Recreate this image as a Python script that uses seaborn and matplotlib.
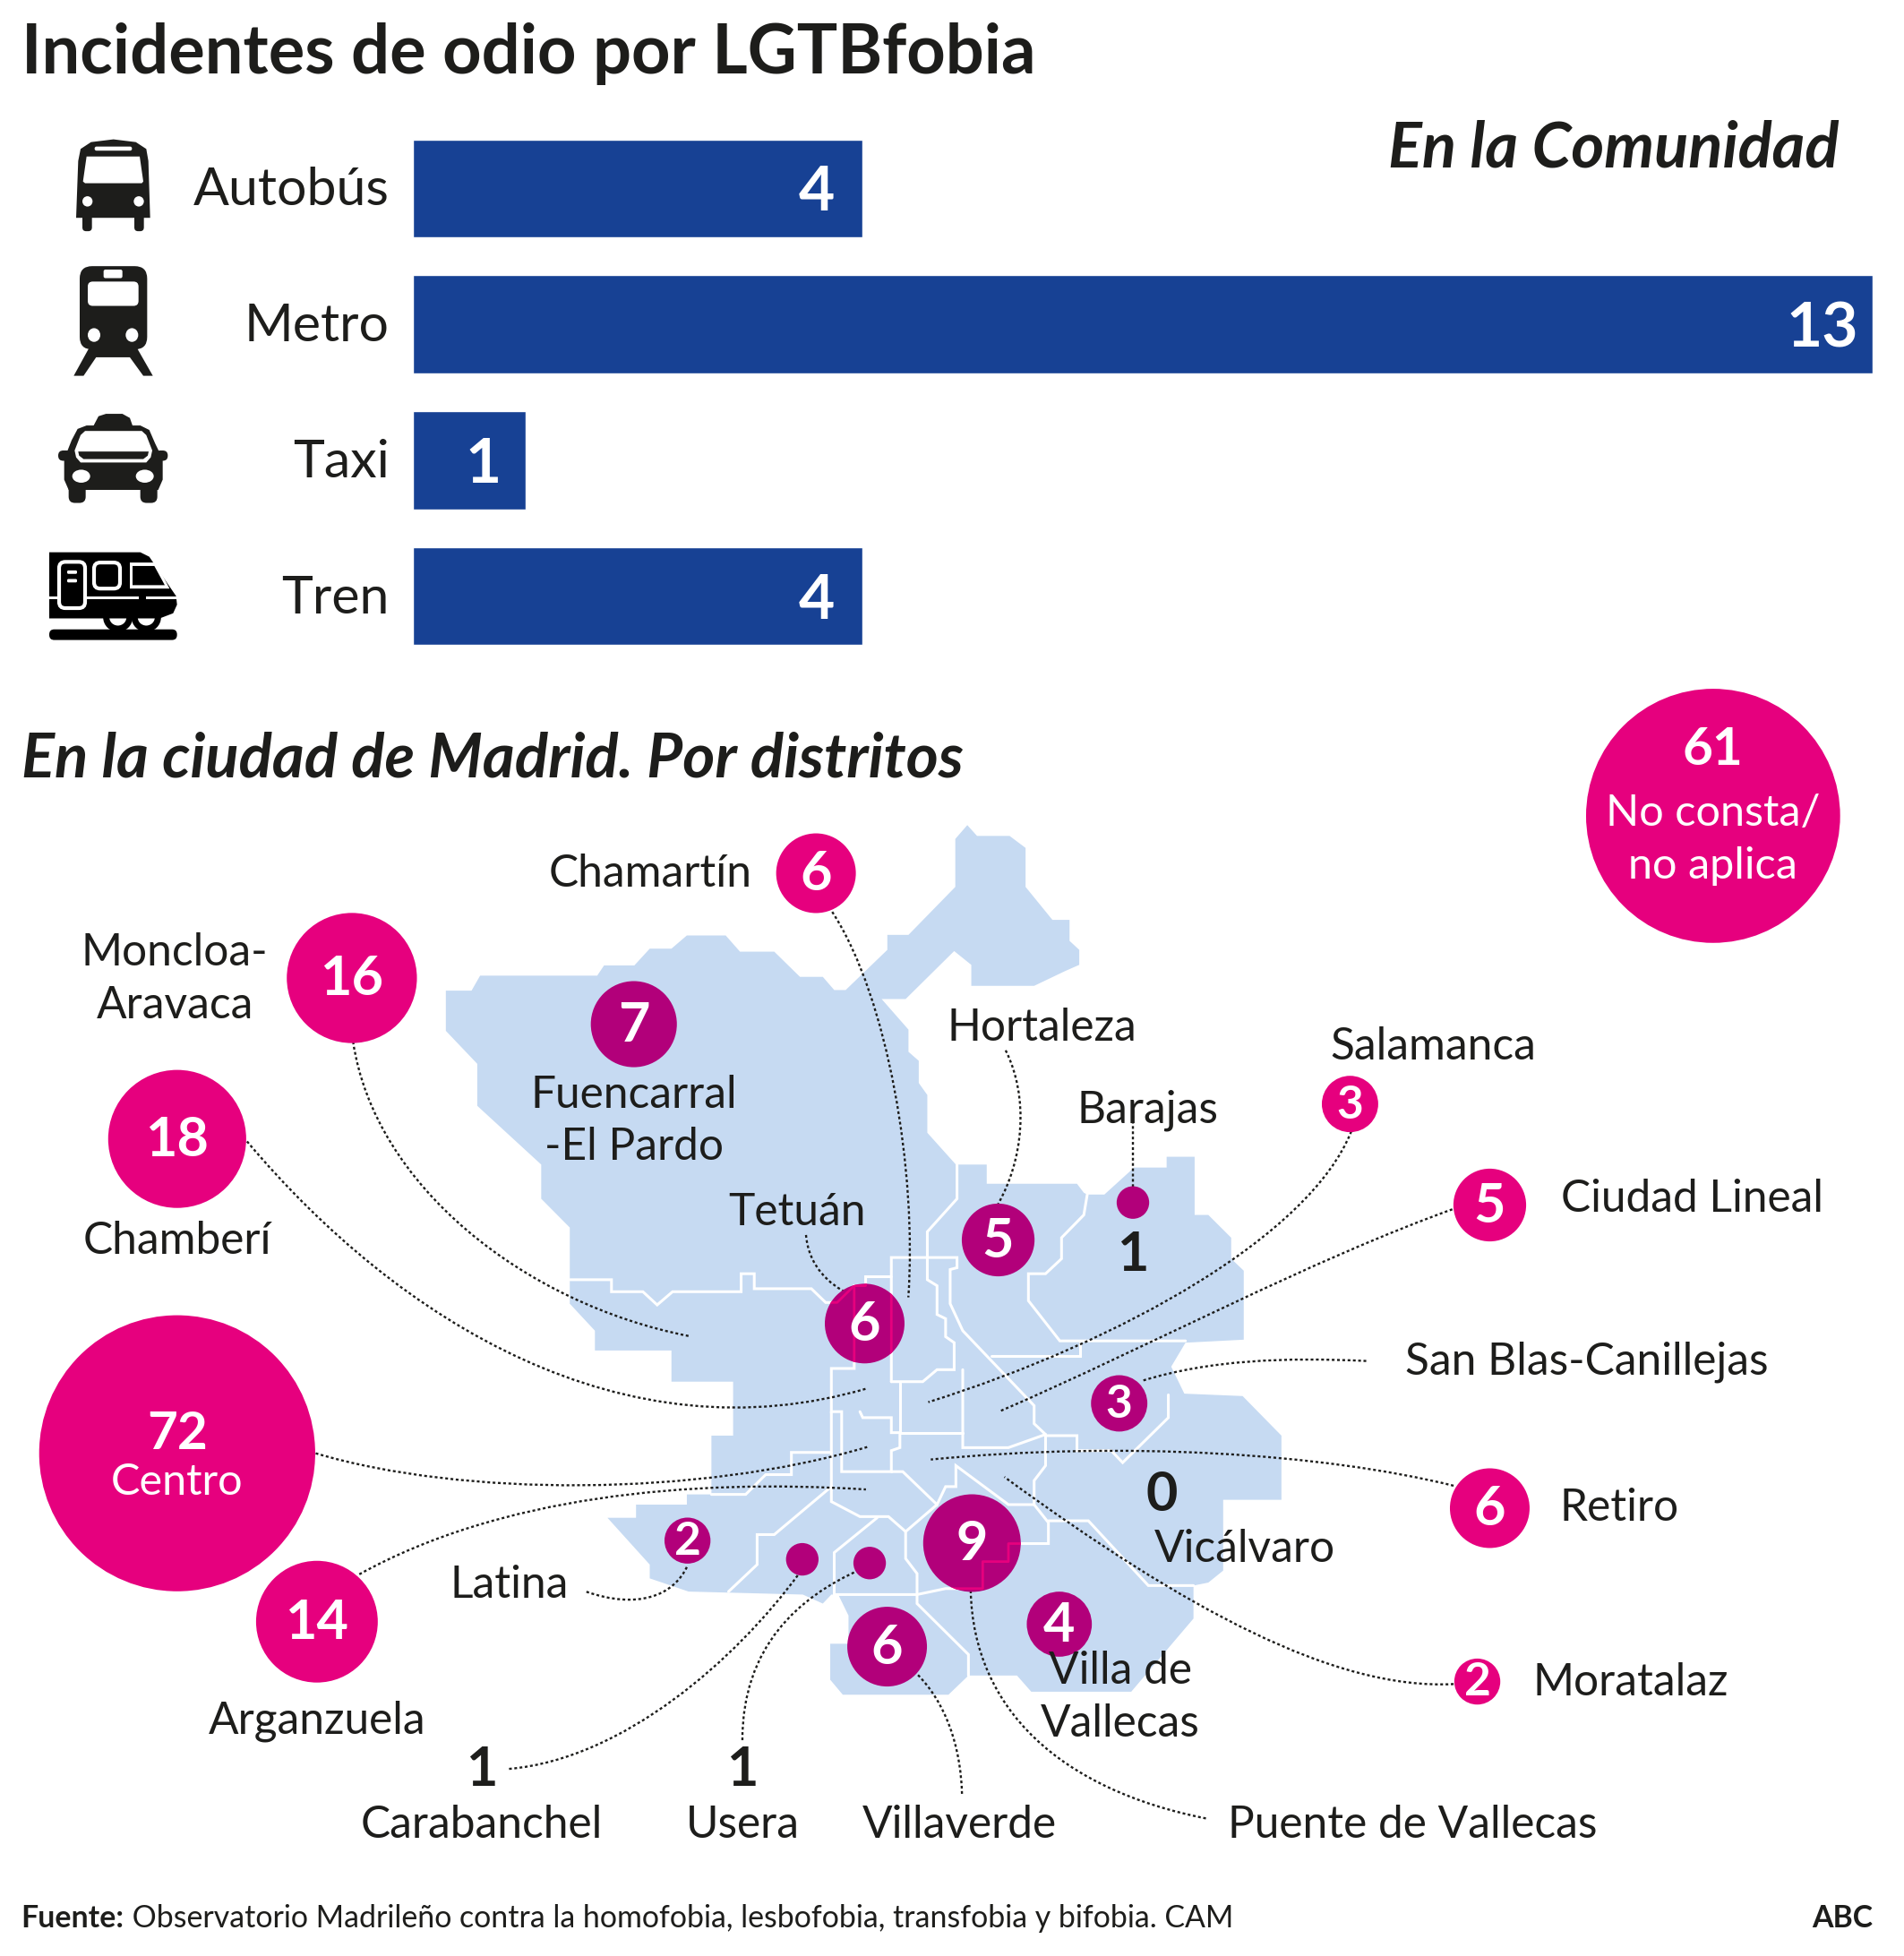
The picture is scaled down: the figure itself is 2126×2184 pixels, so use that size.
import numpy as np
import pandas as pd
import matplotlib
matplotlib.use("Agg")
import matplotlib.pyplot as plt
from matplotlib.patches import Polygon, Ellipse, FancyBboxPatch, PathPatch, Circle
from matplotlib.path import Path
from matplotlib.transforms import ScaledTranslation
import seaborn as sns

# Data

modes = ["Autobús", "Metro", "Taxi", "Tren"]
mode_counts = [4, 13, 1, 4]

districts = ["Chamartín", "Moncloa-Aravaca", "Fuencarral-El Pardo", "Chamberí",
             "Salamanca", "Barajas", "Hortaleza", "Ciudad Lineal", "Tetuán",
             "San Blas-Canillejas", "Centro", "Retiro", "Vicálvaro", "Latina",
             "Carabanchel", "Usera", "Puente de Vallecas", "Arganzuela",
             "Villa de Vallecas", "Villaverde", "Moratalaz", "No consta"]
district_counts = [6, 16, 7, 18, 3, 1, 5, 5, 6, 3, 72, 6, 0, 2, 1, 1, 9, 14, 4, 6,
                   2, 61]
district_on_map = [0, 0, 1, 0, 0, 1, 1, 0, 1, 1, 0, 0, 1, 1, 1, 1, 1, 0, 1, 1, 0, 0]

BLUE = "#174194"
PINK = "#E6007E"
PURPLE = "#B2007A"
LAND = "#C6DAF2"
INK = "#1D1D1B"

# Canvas is laid out in the same units as the 1526x1568 view of the reference
W, H = 1526, 1568
bubble_x = [654, 282, 508, 142, 1082, 908, 800, 1194, 693, 897, 142, 1194, 931,
            551, 643, 697, 779, 254, 849, 711, 1184, 1373]
bubble_y = [700, 784, 821, 913, 885, 964, 994, 966, 1061, 1125, 1165, 1209, 1197,
            1235, 1250, 1253, 1237, 1300, 1302, 1320, 1348, 654]


def mz(p):
    """map crop coordinates to canvas"""
    return [((450 + x / 1.568) / 1.3932, (880 + y / 1.493) / 1.3932) for x, y in p]


def ic(p):
    """icon crop coordinates to canvas"""
    return [((30 + x / 3) / 1.3932, (130 + y / 2.613) / 1.3932) for x, y in p]


outline = [(75, 338), (120, 338), (135, 313), (340, 313), (352, 296), (405, 296),
           (432, 268), (470, 268), (497, 246), (565, 246), (590, 273), (650, 273),
           (695, 315), (735, 315), (755, 337), (775, 337), (848, 270), (848, 245),
           (885, 245), (967, 165), (967, 85), (988, 62), (1005, 80), (1062, 80),
           (1090, 100), (1090, 165), (1137, 220), (1167, 220), (1167, 255),
           (1184, 270), (1184, 295), (1160, 305), (1105, 330), (995, 330),
           (995, 295), (965, 272), (880, 352), (838, 352), (885, 403), (885, 440),
           (903, 455), (903, 492), (918, 512), (918, 575), (968, 628), (1022, 628),
           (1022, 660), (1180, 660), (1192, 675), (1198, 678), (1228, 678),
           (1280, 633), (1337, 633), (1337, 615), (1386, 615), (1386, 712),
           (1410, 712), (1450, 750), (1450, 785), (1472, 805), (1472, 920),
           (1370, 925), (1345, 965), (1368, 1010), (1470, 1014), (1538, 1080),
           (1538, 1187), (1436, 1187), (1436, 1305), (1410, 1325), (1384, 1330),
           (1384, 1385), (1275, 1507), (1100, 1507), (1075, 1480), (990, 1480),
           (955, 1512), (770, 1512), (748, 1487), (748, 1427), (780, 1427),
           (780, 1380), (762, 1345), (750, 1345), (735, 1360), (700, 1345),
           (500, 1340), (432, 1318), (432, 1295), (358, 1217), (408, 1217),
           (408, 1195), (497, 1195), (497, 1178), (540, 1178), (540, 1080),
           (578, 1080), (578, 990), (470, 990), (470, 938), (336, 938), (336, 905),
           (292, 860), (292, 733), (242, 685), (242, 628), (130, 530), (130, 460),
           (75, 405)]

borders = [
    [(292, 820), (365, 820), (365, 840), (420, 840), (445, 862), (472, 840),
     (592, 840), (592, 810), (615, 810), (615, 835), (715, 835), (740, 858),
     (760, 858), (790, 830), (810, 830), (810, 815), (855, 815)],
    [(855, 990), (855, 783), (970, 783), (970, 800), (958, 803), (958, 860),
     (980, 905), (1105, 1030), (1105, 1060), (1125, 1078), (1125, 1130),
     (1105, 1155), (1105, 1195), (1130, 1225), (1130, 1260), (1060, 1260),
     (1060, 1290), (1015, 1290), (1015, 1335), (950, 1335), (900, 1345)],
    [(918, 783), (918, 820), (935, 830), (935, 878), (950, 885), (950, 915),
     (965, 925), (965, 970), (935, 970), (910, 990), (855, 990)],
    [(918, 783), (918, 740), (970, 685), (970, 628)],
    [(1198, 678), (1192, 712), (1153, 750), (1153, 785), (1125, 810), (1095, 810),
     (1095, 855), (1150, 922), (1370, 922)],
    [(1030, 947), (1185, 947), (1185, 925)],
    [(980, 970), (980, 1100), (1060, 1100), (1125, 1078)],
    [(870, 992), (870, 1075), (980, 1075)],
    [(790, 830), (790, 968), (750, 968), (750, 1040), (768, 1040), (768, 1140),
     (855, 1140), (855, 1105), (870, 1100), (870, 1075)],
    [(800, 1040), (805, 1050), (855, 1050), (855, 1075), (870, 1075)],
    [(855, 1140), (875, 1140), (935, 1195), (950, 1165), (968, 1165), (968, 1130),
     (1060, 1195), (1105, 1195)],
    [(540, 1178), (600, 1178), (635, 1145), (680, 1145), (680, 1108), (750, 1108)],
    [(750, 1040), (750, 1190), (800, 1215), (850, 1215), (880, 1240), (935, 1195)],
    [(750, 1165), (650, 1245), (620, 1245), (620, 1295), (570, 1340)],
    [(830, 1217), (755, 1275), (755, 1345), (900, 1345)],
    [(880, 1240), (880, 1285), (900, 1310), (900, 1360), (990, 1445), (990, 1480)],
    [(1125, 1080), (1180, 1080), (1180, 1105), (1240, 1105), (1260, 1125),
     (1340, 1050), (1340, 1012)],
    [(1130, 1222), (1200, 1222), (1305, 1330), (1384, 1330)],
]

# cubic leaders between label and district
leaders = [
    [(667, 731), (712, 800), (735, 940), (728, 1040)],
    [(283, 835), (300, 950), (420, 1045), (552, 1071)],
    [(198, 915), (320, 1060), (500, 1170), (695, 1113)],
    [(253, 1165), (370, 1200), (560, 1200), (695, 1160)],
    [(288, 1262), (400, 1200), (550, 1185), (694, 1194)],
    [(470, 1276), (510, 1290), (540, 1280), (551, 1255)],
    [(408, 1418), (500, 1410), (590, 1330), (640, 1262)],
    [(595, 1395), (595, 1320), (640, 1280), (690, 1258)],
    [(771, 1438), (770, 1400), (758, 1365), (735, 1342)],
    [(778, 1275), (780, 1370), (850, 1435), (968, 1458)],
    [(1165, 1350), (1070, 1355), (950, 1290), (805, 1184)],
    [(1165, 1191), (1060, 1165), (900, 1155), (746, 1170)],
    [(1095, 1091), (1030, 1088), (970, 1090), (915, 1107)],
    [(1168, 968), (1050, 1010), (920, 1080), (802, 1131)],
    [(1083, 907), (1050, 990), (900, 1075), (744, 1124)],
    [(646, 990), (648, 1015), (665, 1030), (680, 1037)],
    [(806, 842), (825, 880), (820, 930), (800, 965)],
    [(908, 890), (908, 910), (908, 930), (908, 952)],
]

labels = [
    ("Chamartín", 521, 701, "center"), ("Moncloa-\nAravaca", 140, 785, "center"),
    ("Fuencarral\n-El Pardo", 508, 899, "center"), ("Chamberí", 142, 995, "center"),
    ("Salamanca", 1149, 839, "center"), ("Barajas", 920, 890, "center"),
    ("Hortaleza", 835, 824, "center"), ("Ciudad Lineal", 1356, 961, "center"),
    ("Tetuán", 639, 972, "center"), ("San Blas-Canillejas", 1272, 1092, "center"),
    ("Retiro", 1298, 1209, "center"), ("Vicálvaro", 998, 1242, "center"),
    ("Latina", 408, 1271, "center"), ("Carabanchel", 386, 1463, "center"),
    ("Usera", 595, 1463, "center"), ("Puente de Vallecas", 1132, 1463, "center"),
    ("Arganzuela", 254, 1380, "center"), ("Villa de\nVallecas", 898, 1361, "center"),
    ("Villaverde", 769, 1463, "center"), ("Moratalaz", 1307, 1349, "center"),
]
dark_numbers = [("Barajas", 908, 1006), ("Carabanchel", 386, 1419),
                ("Usera", 595, 1419), ("Vicálvaro", 931, 1198)]

sns.set_theme(style="white")
plt.rcParams["font.family"] = ["Lato", "DejaVu Sans"]

fig = plt.figure(figsize=(21.26, 21.84), dpi=100, facecolor="white")

# Bars
bar_ax = fig.add_axes([331 / W, 1 - 532.5 / H, (1501 - 331) / W, 436 / H])
bars = pd.DataFrame({"mode": modes, "count": mode_counts})
sns.barplot(data=bars, x="count", y="mode", color=BLUE, width=0.72, saturation=1,
            ax=bar_ax)
bar_ax.set_xlim(0, 13)
bar_ax.set_xlabel("")
bar_ax.set_ylabel("")
bar_ax.set_xticks([])
bar_ax.tick_params(axis="y", length=0, pad=19, labelsize=42.5, labelcolor=INK)
sns.despine(ax=bar_ax, left=True, bottom=True)
bar_ax.patch.set_visible(False)
for tick in bar_ax.get_yticklabels():
    tick.set_transform(tick.get_transform()
                       + ScaledTranslation(0, 2 / 72, fig.dpi_scale_trans))
for i, v in enumerate(mode_counts):
    bar_ax.annotate(str(v), (v, i), xytext=(-12 if v > 9 else -19 if v == 1 else -22, -4),
                    textcoords="offset points", ha="right", va="center",
                    color="white", fontsize=50, fontweight="bold")

# Full canvas overlay
ax = fig.add_axes([0, 0, 1, 1], zorder=3)
ax.set_xlim(0, W)
ax.set_ylim(H, 0)
ax.axis("off")
ax.patch.set_visible(False)

ax.text(17, 43, "Incidentes de odio por LGTBfobia", fontsize=54.6, fontweight="bold",
        color=INK, va="center")
ax.text(1474, 119, "En la Comunidad", fontsize=50.8, fontweight="bold", style="italic",
        color=INK, va="center", ha="right")
ax.text(17, 609, "En la ciudad de Madrid. Por distritos", fontsize=49.7,
        fontweight="bold", style="italic", color=INK, va="center")


def poly(pts, color, z=2):
    ax.add_patch(Polygon(ic(pts), closed=True, fc=color, ec="none", zorder=z))


def oval(cx, cy, w, h, fc, z=2, ec="none", lw=0):
    (x, y), = ic([(cx, cy)])
    ax.add_patch(Ellipse((x, y), w / 3 / 1.3932, h / 2.613 / 1.3932, fc=fc, ec=ec,
                         lw=lw, zorder=z))


def rbox(x0, y0, x1, y1, fc, r=8, z=2, ec="none", lw=0):
    (a, b), (c, d) = ic([(x0, y0), (x1, y1)])
    ax.add_patch(FancyBboxPatch((a + r, b + r), c - a - 2 * r, d - b - 2 * r,
                                boxstyle=f"round,pad={r}", fc=fc, ec=ec, lw=lw,
                                zorder=z))


# bus icon
poly([(165, 296), (172, 130), (180, 95), (215, 75), (290, 67), (365, 75), (400, 95),
      (407, 130), (413, 296)], INK)
rbox(186, 285, 218, 335, INK, r=3)
rbox(360, 285, 392, 335, INK, r=3)
poly([(200, 117), (378, 117), (390, 190), (385, 195), (195, 195), (188, 190)],
     "white", 3)
rbox(227, 88, 352, 100, "white", r=1.5, z=3)
oval(203, 248, 34, 30, "white", 3)
oval(375, 248, 34, 30, "white", 3)

# metro icon
rbox(177, 437, 403, 680, INK, r=10)
poly([(212, 670), (157, 757), (190, 757), (232, 703), (345, 703), (390, 757),
      (422, 757), (365, 670)], INK)
rbox(257, 447, 320, 472, "white", r=1.5, z=3)
rbox(204, 482, 374, 553, "white", r=4, z=3)
oval(225, 638, 42, 40, "white", 3)
oval(352, 638, 42, 40, "white", 3)

# taxi icon
poly([(222, 905), (240, 875), (265, 868), (320, 868), (345, 880), (355, 905)], INK)
poly([(125, 1000), (150, 945), (170, 912), (200, 902), (380, 902), (410, 915),
      (430, 955), (455, 1000), (455, 1060), (440, 1090), (140, 1090), (125, 1060)], INK)
rbox(105, 975, 150, 1005, INK, r=4)
rbox(430, 975, 472, 1005, INK, r=4)
rbox(140, 1070, 197, 1128, INK, r=5)
rbox(380, 1070, 437, 1128, INK, r=5)
poly([(160, 975), (180, 930), (195, 918), (385, 918), (400, 930), (420, 975),
      (415, 995), (400, 1010), (180, 1010), (165, 995)], "white", 3)
poly([(172, 978), (408, 978), (405, 990), (390, 1000), (190, 1000), (175, 990)], INK, 4)
oval(182, 1050, 60, 38, "white", 3)
oval(395, 1050, 60, 38, "white", 3)

# train icon
oval(305, 1462, 78, 66, "white", 1.5, ec="black", lw=5)
oval(400, 1462, 78, 66, "white", 1.5, ec="black", lw=5)
poly([(75, 1272), (380, 1272), (410, 1285), (500, 1400), (503, 1425), (490, 1450),
      (445, 1465), (75, 1465)], "black")
rbox(75, 1497, 503, 1528, "black", r=4)
poly([(75, 1402), (375, 1402), (375, 1410), (75, 1410)], "white", 3)
poly([(400, 1402), (500, 1402), (500, 1410), (400, 1410)], "white", 3)
rbox(108, 1300, 195, 1435, "black", r=5, z=4, ec="white", lw=3)
rbox(225, 1302, 312, 1378, "black", r=5, z=4, ec="white", lw=3)
poly([(345, 1302), (432, 1302), (478, 1378), (345, 1378)], "white", 3)
poly([(354, 1312), (427, 1312), (462, 1368), (354, 1368)], "black", 4)
rbox(135, 1325, 168, 1335, "white", r=1, z=5)
rbox(135, 1350, 168, 1360, "white", r=1, z=5)

# Map
ax.add_patch(Polygon(mz(outline), closed=True, fc=LAND, ec="none", zorder=2))
for line in borders:
    xy = np.array(mz(line))
    ax.plot(xy[:, 0], xy[:, 1], color="white", lw=2.2, zorder=2.5,
            solid_joinstyle="miter")

for pts in leaders:
    path = Path(pts, [Path.MOVETO, Path.CURVE4, Path.CURVE4, Path.CURVE4])
    ax.add_patch(PathPatch(path, fc="none", ec=INK, lw=1.7, ls=(0, (1.3, 1.2)),
                           zorder=3))

# Bubbles, area proportional to the count
df = pd.DataFrame({"district": districts, "count": district_counts,
                   "x": bubble_x, "y": bubble_y, "on_map": district_on_map})
shown = df[df["count"] > 0]
sns.scatterplot(data=shown, x="x", y="y", size="count", sizes=(684, 684 * 72),
                size_norm=(1, 72), hue="on_map", palette={0: PINK, 1: PURPLE},
                linewidth=0, legend=False, zorder=4, ax=ax)
ax.set_xlim(0, W)
ax.set_ylim(H, 0)
ax.axis("off")

# district borders still show through the two big purple bubbles
for name in ["Tetuán", "Puente de Vallecas"]:
    row = df[df["district"] == name].iloc[0]
    r = np.sqrt(330 * row["count"]) / 1.3932
    clip = Circle((row["x"], row["y"]), r, transform=ax.transData)
    for line in borders:
        xy = np.array(mz(line))
        seg, = ax.plot(xy[:, 0], xy[:, 1], color=PINK, lw=2, zorder=4.5)
        seg.set_clip_path(clip)

# numbers
for _, row in shown.iterrows():
    if row["count"] < 2 or row["district"] in ("Centro", "No consta"):
        continue
    size = 37 if row["count"] < 4 else 44
    ax.text(row["x"], row["y"] + 1, str(row["count"]), color="white", fontsize=size,
            fontweight="bold", ha="center", va="center", zorder=6)

ax.text(142, 1150, "72", color="white", fontsize=42, fontweight="bold", ha="center",
        va="center", zorder=6)
ax.text(142, 1188, "Centro", color="white", fontsize=35, ha="center", va="center",
        zorder=6)
ax.text(1373, 601, "61", color="white", fontsize=42, fontweight="bold", ha="center",
        va="center", zorder=6)
ax.text(1373, 673, "No consta/\nno aplica", color="white", fontsize=35, ha="center",
        va="center", zorder=6, linespacing=1.42)

for text, x, y, ha in labels:
    ax.text(x, y, text, color=INK, fontsize=35.7, ha=ha, va="center", zorder=5,
            linespacing=1.34)
for name, x, y in dark_numbers:
    value = df.loc[df["district"] == name, "count"].iloc[0]
    ax.text(x, y, str(value), color=INK, fontsize=44, fontweight="bold", ha="center",
            va="center", zorder=5)

# Footer
src = ax.text(17, 1538, "Fuente:", color=INK, fontsize=24.4, fontweight="bold",
              va="center")
ax.annotate(" Observatorio Madrileño contra la homofobia, lesbofobia, transfobia y "
            "bifobia. CAM", xy=(1, 0.5), xycoords=src, color=INK, fontsize=24.4,
            va="center")
ax.text(1501, 1538, "ABC", color=INK, fontsize=24.4, fontweight="bold", ha="right",
        va="center")

fig.savefig("out.png", dpi=100, facecolor="white")
